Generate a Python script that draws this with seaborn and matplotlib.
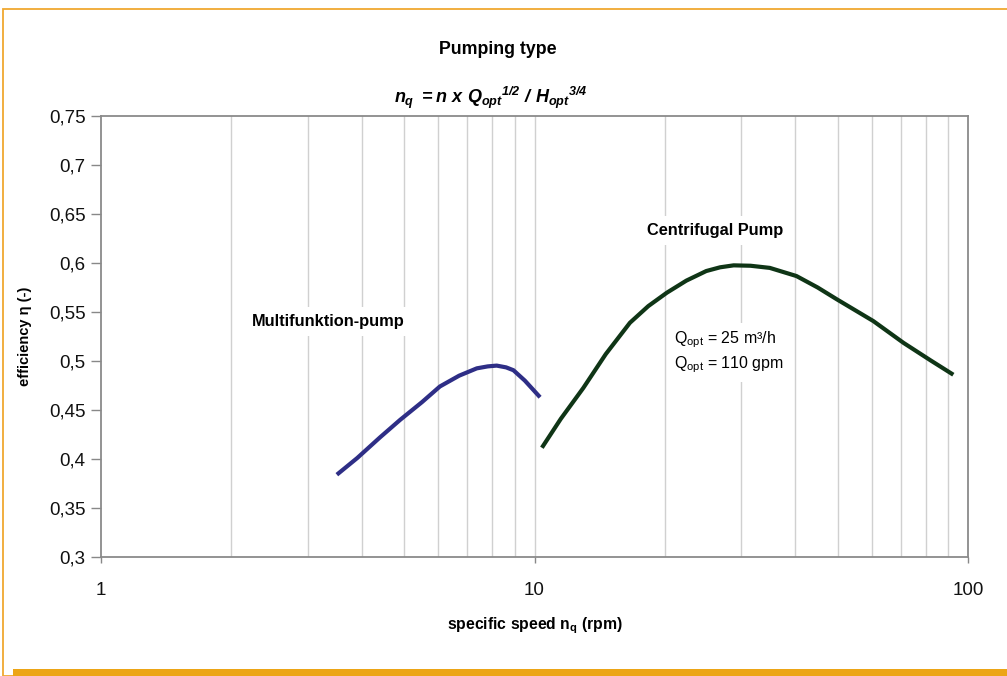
import matplotlib
matplotlib.use("Agg")
import matplotlib.pyplot as plt
import matplotlib.patches as mpatches
from matplotlib.ticker import FixedLocator, NullFormatter, FixedFormatter
import seaborn as sns
import pandas as pd

# Data
multi_nq = [3.50, 3.9, 4.4, 4.9, 5.5, 6.05, 6.7, 7.36, 7.8, 8.18, 8.6, 8.94, 9.5, 10.3]
multi_eff = [0.384, 0.401, 0.422, 0.440, 0.458, 0.474, 0.485, 0.4925, 0.4945, 0.4953, 0.4935,
             0.4906, 0.480, 0.463]
centri_nq = [10.4, 11.5, 12.96, 14.6, 16.6, 18.3, 20.2, 22.4, 24.9, 26.8, 28.8, 31.5, 34.9, 40.2,
             45.0, 49.8, 60.5, 71.0, 82.0, 92.5]
centri_eff = [0.4115, 0.441, 0.4725, 0.507, 0.539, 0.556, 0.5697, 0.582, 0.5918, 0.5956, 0.5976,
              0.5972, 0.595, 0.5867, 0.575, 0.563, 0.5407, 0.5185, 0.5006, 0.486]

y_ticks = [0.3, 0.35, 0.4, 0.45, 0.5, 0.55, 0.6, 0.65, 0.7, 0.75]
y_tick_labels = ["0,3", "0,35", "0,4", "0,45", "0,5", "0,55", "0,6", "0,65", "0,7", "0,75"]
x_ticks = [1, 10, 100]
x_tick_labels = ["1", "10", "100"]
x_grid = [2, 3, 4, 5, 6, 7, 8, 9, 10, 20, 30, 40, 50, 60, 70, 80, 90]

sns.set_theme(style="white")
plt.rcParams['font.family'] = ['Liberation Sans', 'DejaVu Sans']
plt.rcParams['text.color'] = 'black'
plt.rcParams['axes.labelcolor'] = 'black'
plt.rcParams['xtick.labelcolor'] = '#111111'
plt.rcParams['ytick.labelcolor'] = '#111111'
plt.rcParams['mathtext.fontset'] = 'custom'
plt.rcParams['mathtext.rm'] = 'Liberation Sans:bold:italic'
plt.rcParams['mathtext.it'] = 'Liberation Sans:bold:italic'
plt.rcParams['mathtext.bf'] = 'Liberation Sans:bold:italic'

fig = plt.figure(figsize=(10.07, 6.76), dpi=100)
ax = fig.add_axes([101/1007, 1-557/676, (968-101)/1007, (557-116)/676])

df_m = pd.DataFrame({"nq": multi_nq, "eff": multi_eff})
df_c = pd.DataFrame({"nq": centri_nq, "eff": centri_eff})

for xv in x_grid:
    ax.axvline(xv, color="#d0d0d0", lw=1.0, zorder=0)

sns.lineplot(data=df_m, x="nq", y="eff", ax=ax, color="#2e2e86", lw=3.0, zorder=3,
             solid_capstyle="butt", solid_joinstyle="round")
sns.lineplot(data=df_c, x="nq", y="eff", ax=ax, color="#0f3516", lw=3.0, zorder=3,
             solid_capstyle="butt", solid_joinstyle="round")

ax.set_xscale("log")
ax.set_xlim(1, 100)
ax.set_ylim(0.3, 0.75)
ax.xaxis.set_major_locator(FixedLocator(x_ticks))
ax.xaxis.set_major_formatter(FixedFormatter(x_tick_labels))
ax.xaxis.set_minor_formatter(NullFormatter())
ax.xaxis.set_minor_locator(FixedLocator([]))
ax.set_yticks(y_ticks)
ax.set_yticklabels(y_tick_labels)
ax.tick_params(axis="y", which="major", direction="out", length=7, width=1, color="#888888",
               labelsize=13.5, pad=4, left=True)
ax.tick_params(axis="x", which="major", direction="out", length=4, width=1, color="#888888",
               labelsize=13.5, pad=14, bottom=True)
for s in ax.spines.values():
    s.set_color("#8a8a8a")
    s.set_linewidth(1.3)

ax.set_xlabel("specific speed n$_\\mathregular{q}$ (rpm)", fontsize=11.3, fontweight="bold", labelpad=12)
ax.set_ylabel("efficiency η (-)", fontsize=10.5, fontweight="bold", labelpad=12)

fig.text(498/1007, 1-49/676, "Pumping type", ha="center", va="center", fontsize=12.8, fontweight="bold")
fig.text(491/1007, 1-98/676,
         r"$n_{q}\ = n\ x\ Q_{opt}{}^{1/2}\ /\ H_{opt}{}^{3/4}$",
         ha="center", va="center", fontsize=13)

box = dict(facecolor="white", edgecolor="none", pad=5)
ax.text(3.34, 0.5403, "Multifunktion-pump", ha="center", va="center", fontsize=11.8,
        fontweight="bold", bbox=box, zorder=2)
ax.text(26.1, 0.6334, "Centrifugal Pump", ha="center", va="center", fontsize=11.8,
        fontweight="bold", bbox=box, zorder=2)
ax.text(21.0, 0.5086, "Q$_\\mathregular{opt}$ = 25 m³/h\nQ$_\\mathregular{opt}$ = 110 gpm",
        ha="left", va="center", fontsize=11.5, linespacing=1.3, bbox=box, zorder=2)

# Orange frame
orange = "#eca516"
fig.add_artist(mpatches.Rectangle((3/1007, 0), 1, 1-9/676, transform=fig.transFigure,
                                  fill=False, edgecolor="#f0a830", lw=1.3))
fig.add_artist(mpatches.Rectangle((13/1007, 0), 1, 7.5/676, transform=fig.transFigure,
                                  facecolor=orange, edgecolor="none"))

fig.savefig("out.png", dpi=100)
